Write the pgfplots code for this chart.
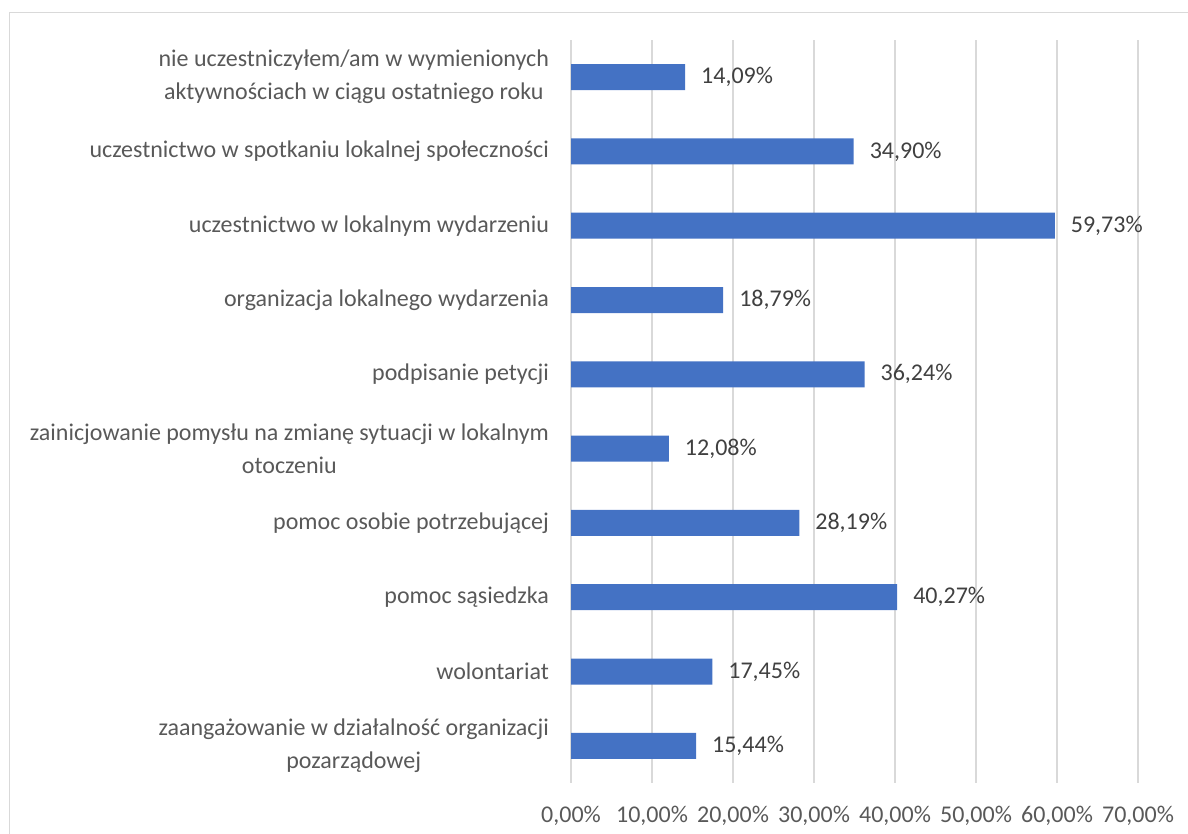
\documentclass[border=0pt]{standalone}
\usepackage{fontspec}
\setmainfont{Carlito}
\usepackage{pgfplots}
\pgfplotsset{compat=1.18}
\definecolor{barblue}{HTML}{4472C4}
\definecolor{gridgray}{HTML}{D9D9D9}
\definecolor{labgray}{HTML}{595959}
\definecolor{valgray}{HTML}{404040}
\begin{document}
\begin{tikzpicture}
\useasboundingbox (0,0) rectangle (594pt,417pt);
\draw[gridgray, line width=0.75pt] (4.75pt,-2pt) -- (4.75pt,410.75pt) -- (596pt,410.75pt);
\begin{axis}[
  at={(285.5pt,25.5pt)}, anchor=south west,
  scale only axis, width=283.5pt, height=371.5pt,
  xbar, bar width=13pt,
  xmin=0, xmax=70, ymin=-0.5, ymax=9.5,
  xtick={0,10,...,70},
  ytick={0,...,9},
  axis line style={draw=none},
  major tick length=0pt,
  xmajorgrids, grid style={gridgray, line width=0.75pt},
  clip=false,
  /pgf/number format/assume math mode=true,
  font=\fontsize{12}{15}\selectfont,
  xticklabel={\pgfmathprintnumber[fixed,fixed zerofill,precision=2,use comma]{\tick}\%},
  xticklabel style={text=labgray, yshift=-8pt, font=\fontsize{12}{15}\selectfont},
  yticklabel style={text=labgray, align=center, xshift=-7.5pt, font=\fontsize{12}{15}\selectfont},
  yticklabels={
    {zaangażowanie w działalność organizacji\\[1.5pt]pozarządowej},
    wolontariat,
    pomoc sąsiedzka,
    pomoc osobie potrzebującej,
    {zainicjowanie pomysłu na zmianę sytuacji w lokalnym\\[1.5pt]otoczeniu},
    podpisanie petycji,
    organizacja lokalnego wydarzenia,
    uczestnictwo w lokalnym wydarzeniu,
    uczestnictwo w spotkaniu lokalnej społeczności,
    {nie uczestniczyłem/am w wymienionych\\[1.5pt]aktywnościach w ciągu ostatniego roku}
  },
  nodes near coords={\pgfmathprintnumber[fixed,fixed zerofill,precision=2,use comma]{\pgfplotspointmeta}\%},
  nodes near coords style={text=valgray, anchor=west, xshift=4.5pt, font=\fontsize{12}{15}\selectfont},
]
\addplot[fill=barblue, draw=none] coordinates {
  (15.44,0) (17.45,1) (40.27,2) (28.19,3) (12.08,4)
  (36.24,5) (18.79,6) (59.73,7) (34.90,8) (14.09,9)
};
\end{axis}
\end{tikzpicture}
\end{document}
